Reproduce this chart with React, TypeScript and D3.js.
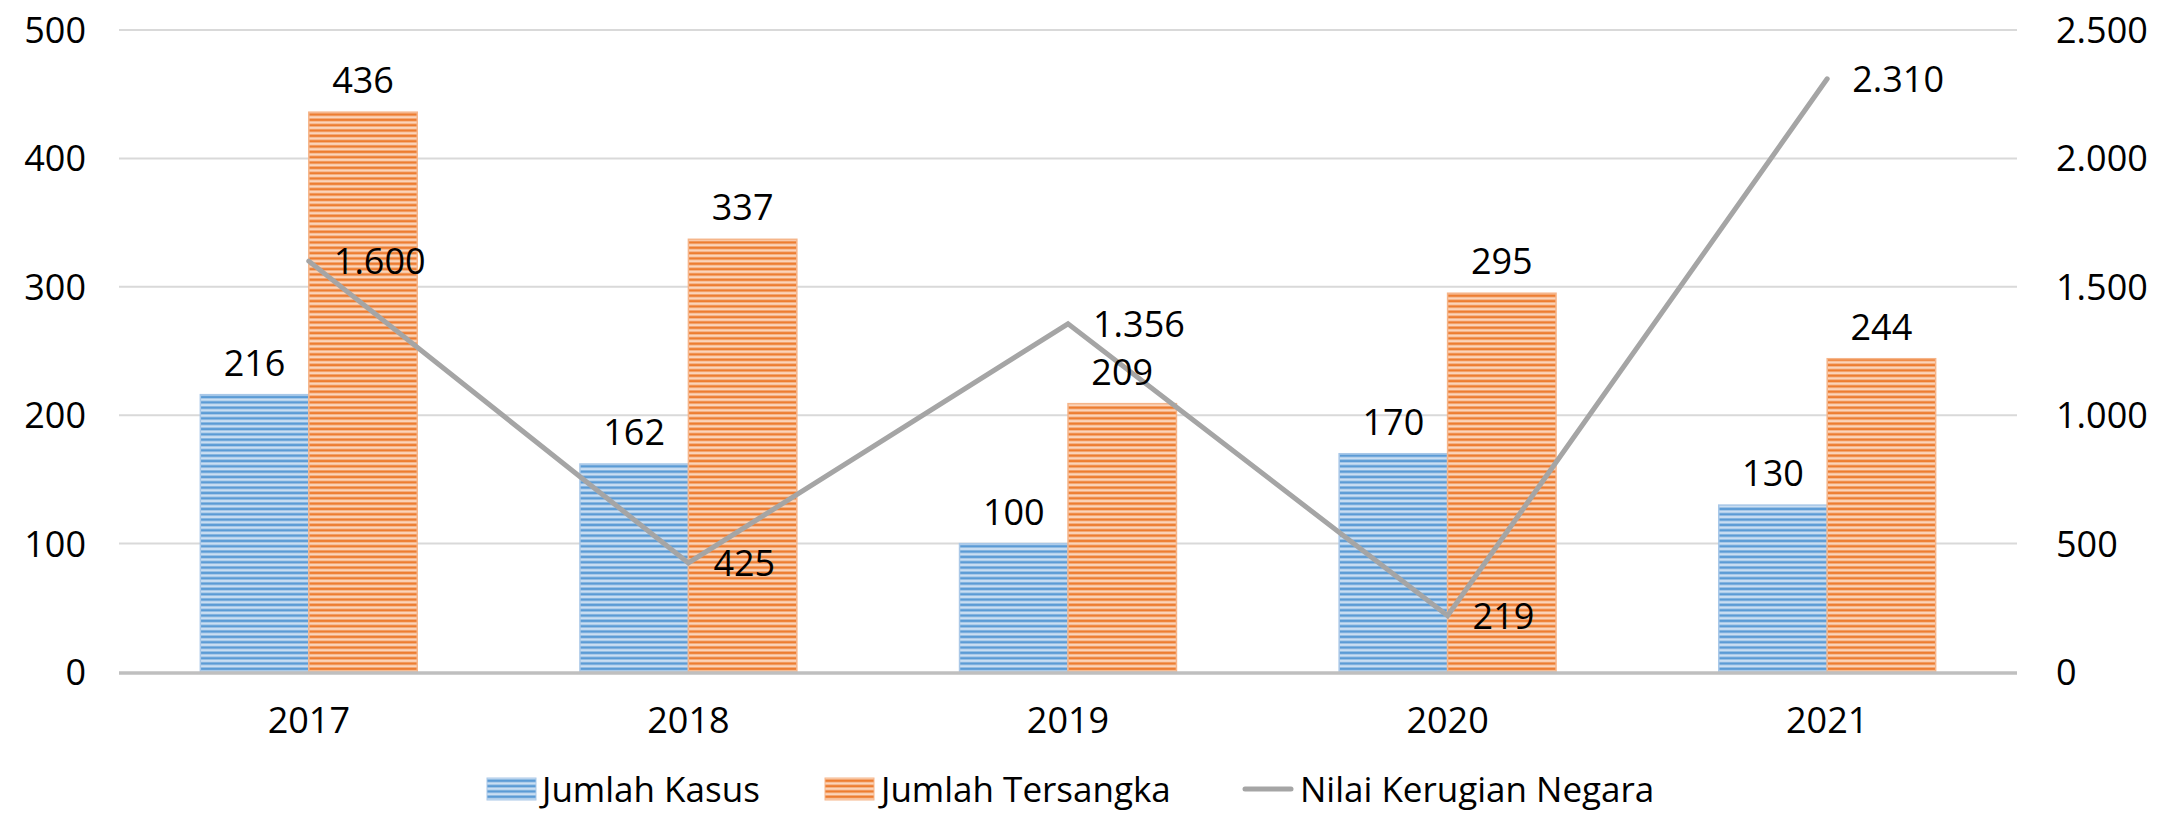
import React from "react";
import * as d3 from "d3";

const years = ["2017", "2018", "2019", "2020", "2021"];
const jumlahKasus = [216, 162, 100, 170, 130];
const jumlahTersangka = [436, 337, 209, 295, 244];
const nilaiKerugian = [1600, 425, 1356, 219, 2310];
const leftTicks = [0, 100, 200, 300, 400, 500];
const rightTicks = [0, 500, 1000, 1500, 2000, 2500];
const seriesNames = ["Jumlah Kasus", "Jumlah Tersangka", "Nilai Kerugian Negara"];

const W = 2168;
const H = 814;
const FONT = "'Open Sans', 'DejaVu Sans', sans-serif";
const FS = 36;

const fmt = (v: number) => d3.format(",")(v).replace(/,/g, ".");

export default function App() {
  const plotLeft = 119;
  const plotRight = 2017;
  const plotTop = 30;
  const plotBottom = 672;

  const x0 = d3.scaleBand<string>().domain(years).range([plotLeft, plotRight]).paddingInner(0).paddingOuter(0);
  const x1 = d3.scaleBand<string>().domain(["kasus", "tersangka"]).range([0, x0.bandwidth()]).paddingInner(0).paddingOuter(0.75);
  const yL = d3.scaleLinear().domain([0, 500]).range([plotBottom, plotTop]);
  const yR = d3.scaleLinear().domain([0, 2500]).range([plotBottom, plotTop]);

  const cx = (y: string) => (x0(y) as number) + x0.bandwidth() / 2;
  const linePath = d3
    .line<number>()
    .x((_, i) => cx(years[i]))
    .y((d) => yR(d))(nilaiKerugian) as string;

  const bw = x1.bandwidth();
  const legY = 789;

  return (
    <svg
      width={W}
      height={H}
      style={{ position: "fixed", left: 0, top: 0, display: "block", background: "#fff" }}
      fontFamily={FONT}
    >
      <defs>
        <pattern id="pBlue" width="8" height="5.33" patternUnits="userSpaceOnUse">
          <rect width="8" height="5.33" fill="#cadef2" />
          <rect width="8" height="2.6" y="1.3" fill="#5b9bd5" />
        </pattern>
        <pattern id="pOrange" width="8" height="5.33" patternUnits="userSpaceOnUse">
          <rect width="8" height="5.33" fill="#fbd4ba" />
          <rect width="8" height="2.6" y="1.3" fill="#ed7d31" />
        </pattern>
      </defs>

      {/* gridlines */}
      {leftTicks.map((t) =>
        t === 0 ? null : (
          <line key={"g" + t} x1={plotLeft} x2={plotRight} y1={yL(t)} y2={yL(t)} stroke="#d9d9d9" strokeWidth={2} />
        )
      )}

      {/* left ticks */}
      {leftTicks.map((t) => (
        <text key={"l" + t} x={86} y={yL(t)} dy="0.36em" textAnchor="end" fontSize={FS} fill="#000">
          {fmt(t)}
        </text>
      ))}
      {/* right ticks */}
      {rightTicks.map((t) => (
        <text key={"r" + t} x={2056} y={yR(t)} dy="0.36em" textAnchor="start" fontSize={FS} fill="#000">
          {fmt(t)}
        </text>
      ))}

      {/* bars */}
      {years.map((yr, i) => {
        const gx = x0(yr) as number;
        const kx = gx + (x1("kasus") as number);
        const tx = gx + (x1("tersangka") as number);
        return (
          <g key={"b" + yr}>
            <rect x={kx} y={yL(jumlahKasus[i])} width={bw} height={plotBottom - yL(jumlahKasus[i])} fill="url(#pBlue)" stroke="#a9c8e8" strokeWidth={1.5} />
            <rect x={tx} y={yL(jumlahTersangka[i])} width={bw} height={plotBottom - yL(jumlahTersangka[i])} fill="url(#pOrange)" stroke="#f5b58a" strokeWidth={1.5} />
          </g>
        );
      })}

      {/* axis line */}
      <line x1={plotLeft} x2={plotRight} y1={plotBottom + 1} y2={plotBottom + 1} stroke="#bfbfbf" strokeWidth={3.5} />

      {/* line series */}
      <path d={linePath} fill="none" stroke="#a5a5a5" strokeWidth={5} strokeLinecap="round" strokeLinejoin="miter" />

      {/* bar labels */}
      {years.map((yr, i) => {
        const gx = x0(yr) as number;
        const kx = gx + (x1("kasus") as number) + bw / 2;
        const tx = gx + (x1("tersangka") as number) + bw / 2;
        return (
          <g key={"bl" + yr}>
            <text x={kx} y={yL(jumlahKasus[i]) - 19} textAnchor="middle" fontSize={FS} fill="#000">
              {fmt(jumlahKasus[i])}
            </text>
            <text x={tx} y={yL(jumlahTersangka[i]) - 19} textAnchor="middle" fontSize={FS} fill="#000">
              {fmt(jumlahTersangka[i])}
            </text>
          </g>
        );
      })}

      {/* line labels */}
      {years.map((yr, i) => (
        <text key={"ll" + yr} x={cx(yr) + 25} y={yR(nilaiKerugian[i])} dy="0.36em" textAnchor="start" fontSize={FS} fill="#000">
          {fmt(nilaiKerugian[i])}
        </text>
      ))}

      {/* x labels */}
      {years.map((yr) => (
        <text key={"x" + yr} x={cx(yr)} y={733} textAnchor="middle" fontSize={FS} fill="#000">
          {yr}
        </text>
      ))}

      {/* legend */}
      <g>
        <rect x={487} y={legY - 11} width={49} height={22} fill="url(#pBlue)" stroke="#a9c8e8" strokeWidth={1} />
        <text x={542} y={legY} dy="0.36em" fontSize={35} fill="#000">{seriesNames[0]}</text>
        <rect x={825} y={legY - 11} width={49} height={22} fill="url(#pOrange)" stroke="#f5b58a" strokeWidth={1} />
        <text x={881} y={legY} dy="0.36em" fontSize={35} fill="#000">{seriesNames[1]}</text>
        <line x1={1245} x2={1291} y1={legY} y2={legY} stroke="#a5a5a5" strokeWidth={5} strokeLinecap="round" />
        <text x={1300} y={legY} dy="0.36em" fontSize={35} fill="#000">{seriesNames[2]}</text>
      </g>
    </svg>
  );
}
